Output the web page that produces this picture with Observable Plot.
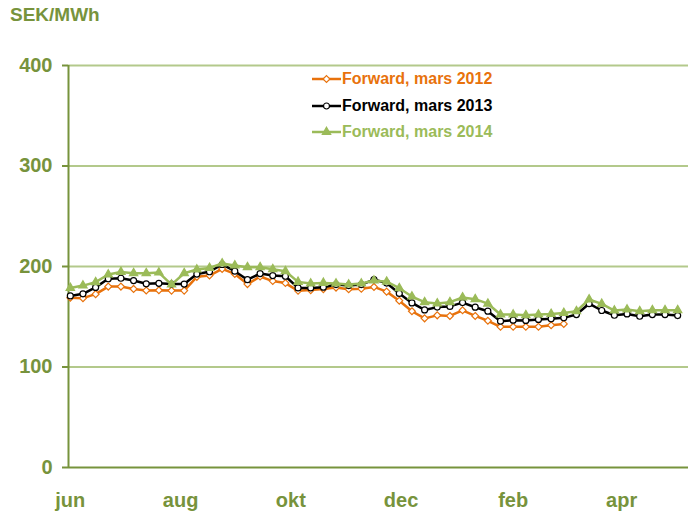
<!DOCTYPE html>
<html><head><meta charset="utf-8">
<script src="https://cdn.jsdelivr.net/npm/d3@7"></script>
<script src="https://cdn.jsdelivr.net/npm/@observablehq/plot@0.6"></script>
<style>
body{margin:0;background:#fff;font-family:"Liberation Sans",Arial,sans-serif;}
#wrap{position:relative;width:688px;height:511px;overflow:hidden}
#unit{position:absolute;left:10px;top:5px;font-weight:bold;font-size:19px;line-height:19px;color:#77933C}
#legend{position:absolute;left:312px;top:66px}
.row{display:flex;align-items:center;height:26.5px;font-weight:bold;font-size:16px;white-space:nowrap}
.row svg{margin-right:1px}
</style></head>
<body><div id="wrap"><div id="chart"></div><div id="unit">SEK/MWh</div><div id="legend"></div></div>
<script>
// weekly observations starting 2011-06-01
const firstDate = "2011-06-01";
const nWeeks = 49;
const forward2012 = [169,168.5,172.5,180,180,177.7,176.2,176.4,176,176,189.7,191,197.6,192.6,182.5,190,185.5,183.5,175.8,176.5,177.5,179,177.4,177.8,179.7,175,166,155.5,148.4,151.4,150.8,156.4,150.8,146,140,140,140,140,141.6,142.9];
const forward2013 = [170.7,172.8,179.2,187.8,188.3,186,182.8,183.3,182.5,182.5,192.5,194.8,202,195.3,186.9,193,191,190.3,178.7,178.7,179.4,182,181,182,187,183.5,173.2,163.8,156.8,159.6,160.3,164.1,159.5,155.5,145.6,146.6,146.3,147.3,147.9,148.9,152.2,163,156.2,151.5,152.8,150.5,152.2,152.2,151.2];
const forward2014 = [178.7,181,184.4,192,194.6,193.3,193.3,194,182,193.3,197,198.6,203,201,199.3,199.3,197.3,195.3,184.7,183,183.7,183,182,183,186,184.9,178.4,170.1,164.5,163.2,164.5,169.2,167.5,163,152.2,152.2,151.5,152.2,152.8,153.8,155.5,167.2,162.8,156.2,157.2,155.5,156.5,156.5,156.5];
const seriesNames = ["Forward, mars 2012","Forward, mars 2013","Forward, mars 2014"];
const yTicks = [0,100,200,300,400];
const xTickDates = ["2011-06-01","2011-08-01","2011-10-01","2011-12-01","2012-02-01","2012-04-01"];
const xTickLabels = ["jun","aug","okt","dec","feb","apr"];

const colors = ["#E8720C","#000000","#9BBB59"];
const symbols = ["diamond2","circle","triangle"];
const fills = ["#ffffff","#ffffff","#9BBB59"];
const radii = [3.1,3.0,3.1];
const axisGreen = "#77933C";

const d0 = new Date(firstDate + "T00:00:00Z");
const dates = d3.range(nWeeks).map(i => d3.utcDay.offset(d0, 7*i));
const allSeries = [forward2012, forward2013, forward2014];
const tickDates = xTickDates.map(s => new Date(s + "T00:00:00Z"));
const labelByTime = new Map(tickDates.map((d,i)=>[+d, xTickLabels[i]]));
const xStart = d3.utcDay.offset(d0, -1);
const xEnd = new Date("2012-05-08T00:00:00Z");

const marks = [
  Plot.gridY(yTicks.filter(v=>v>0), {stroke:"#B3C98B", strokeOpacity:1, strokeWidth:1.8}),
  Plot.axisY(yTicks, {tickSize:6, tickPadding:10, color:axisGreen, fontSize:20, fontWeight:"bold", label:null, strokeWidth:2}),
  Plot.axisX(tickDates, {tickSize:0, tickPadding:25, color:axisGreen, fontSize:20, fontWeight:"bold", label:null, tickFormat: d => labelByTime.get(+d)}),
  Plot.ruleY([0], {stroke:axisGreen, strokeWidth:2}),
  Plot.ruleX([xStart], {stroke:axisGreen, strokeWidth:2})
];
allSeries.forEach((vals, k) => {
  const data = vals.map((v,i)=>({date:dates[i], v}));
  marks.push(Plot.line(data, {x:"date", y:"v", stroke:colors[k], strokeWidth:2.5}));
  marks.push(Plot.dot(data, {x:"date", y:"v", symbol:symbols[k], r:radii[k], stroke:colors[k], fill:fills[k], strokeWidth:1.2}));
});

const chart = Plot.plot({
  width:688, height:511,
  marginTop:65, marginLeft:68, marginRight:0, marginBottom:44,
  x:{type:"utc", domain:[xStart, xEnd]},
  y:{domain:[0,400]},
  style:{fontFamily:"'Liberation Sans', Arial, sans-serif", background:"transparent"},
  marks
});
document.getElementById("chart").appendChild(chart);

// legend
const legend = document.getElementById("legend");
seriesNames.forEach((name,k)=>{
  const row = document.createElement("div");
  row.className = "row";
  row.style.color = colors[k];
  const sym = d3.symbol(d3["symbol" + {diamond2:"Diamond2",circle:"Circle",triangle:"Triangle"}[symbols[k]]], Math.PI*radii[k]*radii[k])();
  row.innerHTML = `<svg width="29" height="12"><line x1="0" x2="29" y1="6" y2="6" stroke="${colors[k]}" stroke-width="2.5"/><path d="${sym}" transform="translate(14.5,6)" fill="${fills[k]}" stroke="${colors[k]}" stroke-width="1.2"/></svg><span>${name}</span>`;
  legend.appendChild(row);
});
</script></body></html>
